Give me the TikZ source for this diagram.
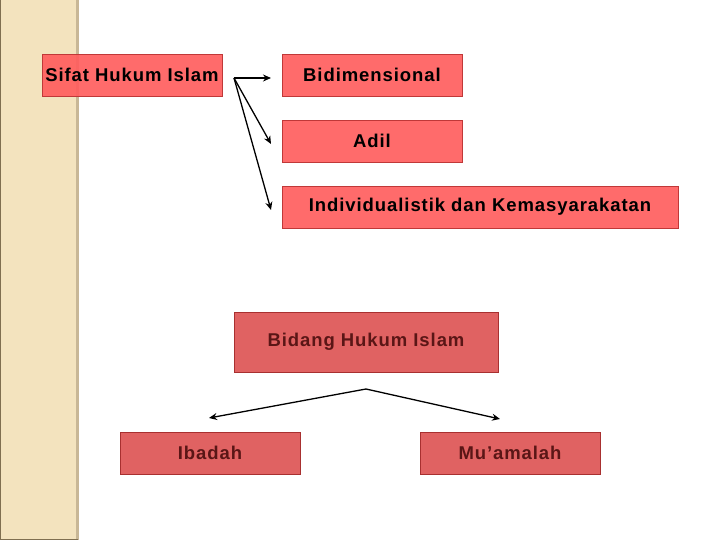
\documentclass[tikz,border=0pt]{standalone}
\usepackage{fontspec}
\setmainfont{Liberation Sans}
\newfontfamily\boxfont[LetterSpace=5]{Liberation Sans}
\usetikzlibrary{arrows.meta}
\definecolor{band}{HTML}{F3E3BE}
\definecolor{bandedge}{HTML}{C8B796}
\definecolor{bandline}{HTML}{7F6F50}
\definecolor{topfill}{HTML}{FF5E5E}
\definecolor{topdraw}{HTML}{C03838}
\definecolor{botfill}{HTML}{E06262}
\definecolor{botdraw}{HTML}{A83030}
\definecolor{bottext}{HTML}{5A1616}
\tikzset{
  topbox/.style={draw=topdraw, fill=topfill, fill opacity=0.92, text opacity=1, line width=0.8pt,
    font=\boxfont\fontsize{18.5}{21}\selectfont\bfseries, text=black, inner sep=0pt},
  botbox/.style={draw=botdraw, fill=botfill, line width=0.8pt,
    font=\boxfont\fontsize{18.5}{21}\selectfont\bfseries, text=bottext, inner sep=0pt},
  conn/.style={line width=1.3pt, -{Stealth[length=8pt,width=7pt]}}
}
\begin{document}
\begin{tikzpicture}[x=1pt,y=-1pt]
\useasboundingbox (0,0) rectangle (720,540);
% side band
\fill[band] (0,0) rectangle (78,540);
\draw[bandedge, line width=3pt] (77,0) -- (77,540);
\draw[bandline, line width=1pt] (0.5,0) -- (0.5,540);
\draw[bandline, line width=1pt] (0,539.5) -- (78,539.5);
% top boxes
\node[topbox, minimum width=180pt, minimum height=42pt] (sifat) at (132,75) {Sifat Hukum Islam};
\node[topbox, minimum width=180pt, minimum height=42pt] (bidi) at (372,75) {Bidimensional};
\node[topbox, minimum width=180pt, minimum height=42pt] (adil) at (372,141) {Adil};
\node[topbox, minimum width=396pt, minimum height=42pt] (indiv) at (480,207) {Individualistik dan Kemasyarakatan};
% bottom boxes
\node[botbox, minimum width=264pt, minimum height=60pt] (bidang) at (366,342) {Bidang Hukum Islam};
\node[botbox, minimum width=180pt, minimum height=42pt] (ibadah) at (210,453) {Ibadah};
\node[botbox, minimum width=180pt, minimum height=42pt] (muamalah) at (510,453) {Mu’amalah};
% connectors
\coordinate (s) at (234,78);
\coordinate (e1) at (271,78);
\coordinate (e2) at (271,144);
\coordinate (e3) at (271,210);
\draw[conn] (s) -- (e1);
\draw[conn] (s) -- (e2);
\draw[conn] (s) -- (e3);
\coordinate (p) at (366,389);
\coordinate (l) at (209,418);
\coordinate (r) at (500,419);
\draw[conn] (p) -- (l);
\draw[conn] (p) -- (r);
\end{tikzpicture}
\end{document}
